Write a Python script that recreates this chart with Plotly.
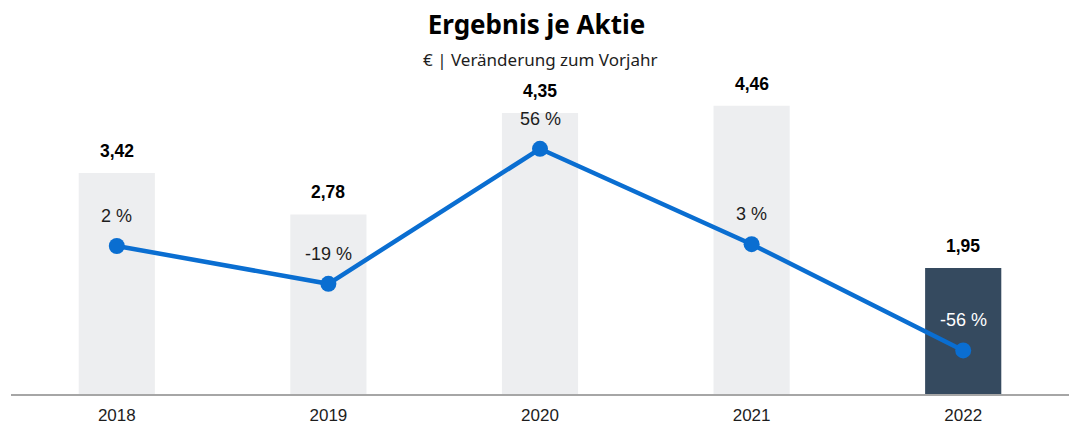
import plotly.graph_objects as go

years = ["2018", "2019", "2020", "2021", "2022"]
eps = [3.42, 2.78, 4.35, 4.46, 1.95]
eps_labels = ["3,42", "2,78", "4,35", "4,46", "1,95"]
change_pct = [2, -19, 56, 3, -56]
change_labels = ["2 %", "-19 %", "56 %", "3 %", "-56 %"]

bar_colors = ["#edeef0"] * 4 + ["#354a5f"]
pct_text_colors = ["#1d1d1d"] * 4 + ["#ffffff"]

LABEL_FONT = "Liberation Sans, Arial, sans-serif"
TITLE_FONT = "Noto Sans, Open Sans, sans-serif"

fig = go.Figure()
fig.add_trace(go.Bar(
    x=years, y=eps, marker=dict(color=bar_colors, line=dict(width=0)),
    width=0.36, hoverinfo="skip", showlegend=False,
))
fig.add_trace(go.Scatter(
    x=years, y=change_pct, yaxis="y2", mode="lines+markers",
    line=dict(color="#0a6ed1", width=4.5),
    marker=dict(color="#0a6ed1", size=16),
    hoverinfo="skip", showlegend=False,
))

annotations = []
for i, (v, t) in enumerate(zip(eps, eps_labels)):
    annotations.append(dict(
        x=i, y=v, xref="x", yref="y", text="<b>" + t + "</b>", showarrow=False,
        yanchor="middle", yshift=22,
        font=dict(family=LABEL_FONT, size=17.5, color="#000000"),
    ))
for i, (v, t, c) in enumerate(zip(change_pct, change_labels, pct_text_colors)):
    annotations.append(dict(
        x=i, y=v, xref="x", yref="y2", text=t, showarrow=False,
        yanchor="middle", yshift=30,
        font=dict(family=LABEL_FONT, size=18, color=c),
    ))
annotations.append(dict(
    x=0.5, y=1.0, xref="paper", yref="paper", text="€ | Veränderung zum Vorjahr",
    showarrow=False, xanchor="center", yanchor="middle", yshift=1,
    font=dict(family=TITLE_FONT, size=17, color="#1d1d1d"),
))

hidden_axis = dict(showgrid=False, zeroline=False, showline=False,
                   showticklabels=False, ticks="", fixedrange=True)

fig.update_layout(
    width=1073, height=425,
    margin=dict(l=11, r=4, t=60, b=31, autoexpand=False),
    paper_bgcolor="white", plot_bgcolor="white",
    title=dict(text="<b>Ergebnis je Aktie</b>", x=0.5, xanchor="center",
               y=1 - 25 / 425, yanchor="middle", yref="container",
               font=dict(family=TITLE_FONT, size=26, color="#000000")),
    xaxis=dict(type="category", range=[-0.5, 4.5], showgrid=False,
               showline=True, linecolor="#a6a6a6", linewidth=2,
               ticks="", tickfont=dict(family=LABEL_FONT, size=17, color="#1d1d1d"),
               ticklabelstandoff=5, zeroline=False),
    yaxis=dict(range=[0, 5.17], **hidden_axis),
    yaxis2=dict(range=[-80.22, 105.33], overlaying="y", **hidden_axis),
    annotations=annotations,
)

fig.write_html("out.html", config={"displayModeBar": False},
               post_script="document.body.style.margin='0';document.body.style.overflow='hidden';")
